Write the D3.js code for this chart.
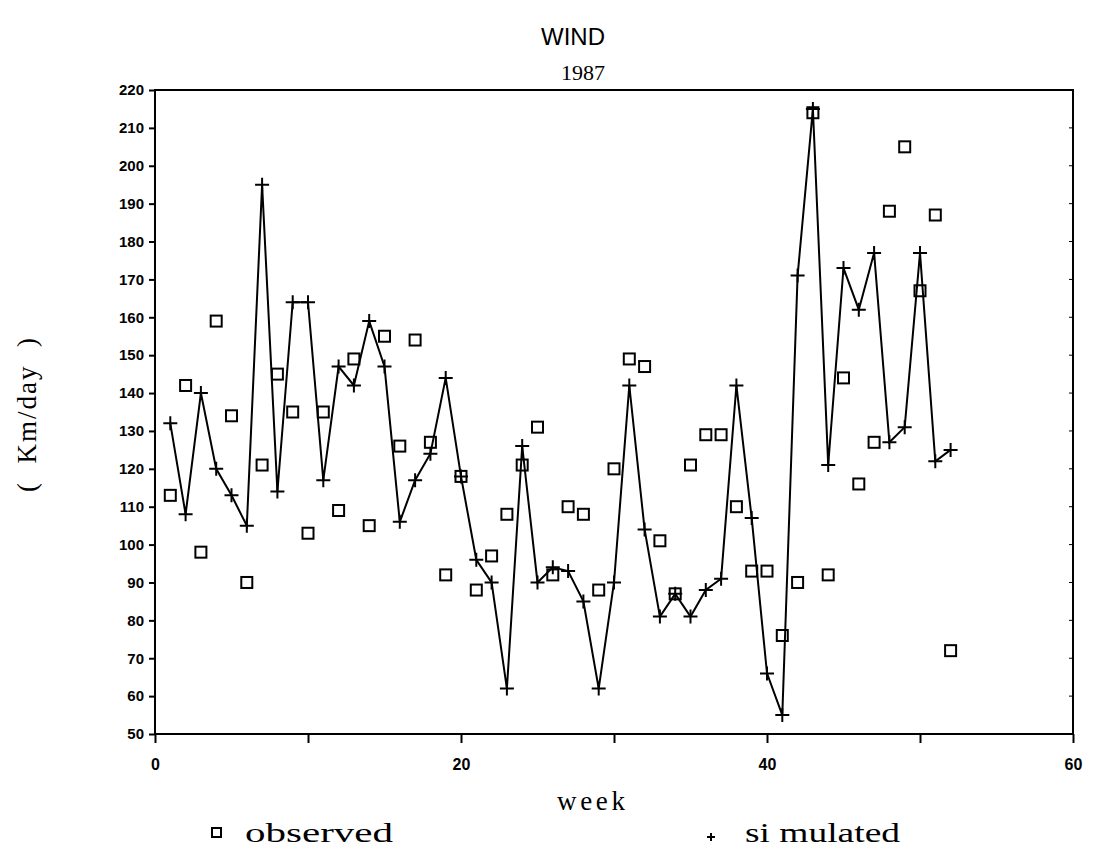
<!DOCTYPE html>
<html>
<head>
<script src="https://d3js.org/d3.v7.min.js"></script>
<style>
  body { margin: 0; background: #fff; }
</style>
</head>
<body>
<svg width="1097" height="855"></svg>
<script>
// weeks 1..52
var weeks = d3.range(1, 53);

var observed = [113, 142, 98, 159, 134, 90, 121, 145, 135, 103,
                135, 109, 149, 105, 155, 126, 154, 127, 92, 118,
                88, 97, 108, 121, 131, 92, 110, 108, 88, 120,
                149, 147, 101, 87, 121, 129, 129, 110, 93, 93,
                76, 90, 214, 92, 144, 116, 127, 188, 205, 167,
                187, 72];

var simulated = [132, 108, 140, 120, 113, 105, 195, 114, 164, 164,
                 117, 147, 142, 159, 147, 106, 117, 124, 144, 118,
                 96, 90, 62, 126, 90, 94, 93, 85, 62, 90,
                 142, 104, 81, 87, 81, 88, 91, 142, 107, 66,
                 55, 171, 215, 121, 173, 162, 177, 127, 131, 177,
                 122, 125];

var yTicks = d3.range(50, 221, 10);
var xTicks = [0, 10, 20, 30, 40, 50, 60];
var xLabels = [0, 20, 40, 60];

var svg = d3.select('svg');
var plotL = 155, plotR = 1073, plotT = 90, plotB = 734;

var x = d3.scaleLinear().domain([0, 60]).range([plotL, plotR]);
var y = d3.scaleLinear().domain([50, 220]).range([plotB, plotT]);

// frame
svg.append('rect')
  .attr('x', plotL).attr('y', plotT)
  .attr('width', plotR - plotL).attr('height', plotB - plotT)
  .attr('fill', 'none').attr('stroke', '#000').attr('stroke-width', 2);

// y axis
var yAxis = d3.axisLeft(y).tickValues(yTicks).tickSize(6).tickPadding(5);
var gy = svg.append('g').attr('transform', 'translate(' + plotL + ',0)').call(yAxis);
gy.select('.domain').remove();
gy.selectAll('line').attr('stroke', '#000').attr('stroke-width', 2);
gy.selectAll('text')
  .attr('font-family', 'Liberation Sans, Arial, sans-serif')
  .attr('font-weight', 'bold')
  .attr('font-size', 15)
  .attr('fill', '#000');

// small ticks on the right border
svg.append('g').selectAll('line').data(yTicks).enter().append('line')
  .attr('x1', plotR).attr('x2', plotR - 4)
  .attr('y1', function(d) { return y(d); })
  .attr('y2', function(d) { return y(d); })
  .attr('stroke', '#000').attr('stroke-width', 1);

// x axis
var xAxis = d3.axisBottom(x).tickValues(xTicks).tickSize(9).tickPadding(16)
  .tickFormat(function(d) { return xLabels.indexOf(d) >= 0 ? d : ''; });
var gx = svg.append('g').attr('transform', 'translate(0,' + plotB + ')').call(xAxis);
gx.select('.domain').remove();
gx.selectAll('line').attr('stroke', '#000').attr('stroke-width', 2);
gx.selectAll('text')
  .attr('font-family', 'Liberation Sans, Arial, sans-serif')
  .attr('font-weight', 'bold')
  .attr('font-size', 16)
  .attr('fill', '#000');

// simulated line
var line = d3.line()
  .x(function(d, i) { return x(weeks[i]); })
  .y(function(d) { return y(d); });

svg.append('path')
  .datum(simulated)
  .attr('d', line)
  .attr('fill', 'none')
  .attr('stroke', '#000')
  .attr('stroke-width', 2);

// simulated markers (+)
svg.append('g').selectAll('path.plus').data(simulated).enter().append('path')
  .attr('class', 'plus')
  .attr('d', 'M-7,0H7M0,-7V7')
  .attr('transform', function(d, i) { return 'translate(' + x(weeks[i]) + ',' + y(d) + ')'; })
  .attr('stroke', '#000').attr('stroke-width', 2).attr('fill', 'none');

// observed markers (squares)
svg.append('g').selectAll('rect.obs').data(observed).enter().append('rect')
  .attr('class', 'obs')
  .attr('x', function(d, i) { return x(weeks[i]) - 5.5; })
  .attr('y', function(d) { return y(d) - 5.5; })
  .attr('width', 11).attr('height', 11)
  .attr('fill', 'none').attr('stroke', '#000').attr('stroke-width', 2);

// titles
svg.append('text').text('WIND')
  .attr('x', 573).attr('y', 45).attr('text-anchor', 'middle')
  .attr('font-family', 'Liberation Sans, Arial, sans-serif')
  .attr('font-size', 24);

svg.append('text').text('1987')
  .attr('x', 583).attr('y', 80).attr('text-anchor', 'middle')
  .attr('font-family', 'Liberation Serif, Times New Roman, serif')
  .attr('font-size', 22);

svg.append('text').text('week')
  .attr('x', 557).attr('y', 810)
  .attr('font-family', 'Liberation Serif, Times New Roman, serif')
  .attr('font-size', 27)
  .attr('textLength', 68).attr('lengthAdjust', 'spacing');

svg.append('text').text('(  Km/day  )')
  .attr('transform', 'translate(36,414) rotate(-90)')
  .attr('text-anchor', 'middle')
  .attr('font-family', 'Liberation Serif, Times New Roman, serif')
  .attr('font-size', 27)
  .attr('letter-spacing', 2)
  .style('white-space', 'pre');

// legend
svg.append('rect')
  .attr('x', 212).attr('y', 828).attr('width', 9).attr('height', 9)
  .attr('fill', '#fff').attr('stroke', '#000').attr('stroke-width', 2);
svg.append('text').text('observed')
  .attr('x', 245).attr('y', 842)
  .attr('font-family', 'Liberation Serif, Times New Roman, serif')
  .attr('font-size', 27)
  .attr('textLength', 148).attr('lengthAdjust', 'spacingAndGlyphs');

svg.append('path')
  .attr('d', 'M-4,0H4M0,-4V4')
  .attr('transform', 'translate(711,837)')
  .attr('stroke', '#000').attr('stroke-width', 2);
svg.append('text').text('si mulated')
  .attr('x', 745).attr('y', 842)
  .attr('font-family', 'Liberation Serif, Times New Roman, serif')
  .attr('font-size', 27)
  .style('white-space', 'pre')
  .attr('textLength', 155).attr('lengthAdjust', 'spacingAndGlyphs');
</script>
</body>
</html>
